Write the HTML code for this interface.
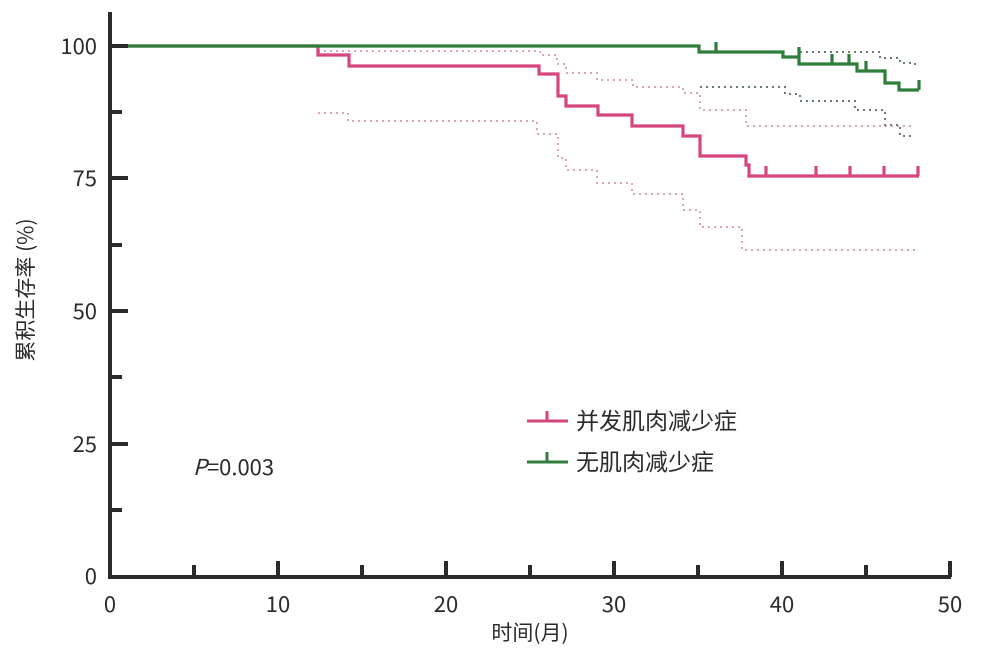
<!DOCTYPE html><html><head><meta charset="utf-8"><style>body{margin:0;background:#fff}svg{display:block}text{font-family:"Noto Sans CJK SC","Liberation Sans",sans-serif;fill:#2b2b2b}</style></head><body>
<svg width="981" height="652" viewBox="0 0 981 652">
<g fill="none" stroke-dasharray="2 4" stroke-width="2">
<polyline stroke="#d8a6b8" points="318,51 540,51 540,55 557,55 557,64 566,64 566,73 597,73 597,80 633,80 633,87 683,87 683,93 700,93 700,110 746,110 746,126 915,126"/>
<polyline stroke="#d8a6b8" points="318,113 348,113 348,121 537,121 537,134 558,134 558,158 566,158 566,170 597,170 597,183 632,183 632,194 683,194 683,210 700,210 700,227 742,227 742,250 915,250"/>
<polyline stroke="#6b7d6e" points="700,87 785,87 785,94 800,94 800,101 855,101 855,110 885,110 885,125 900,125 900,136 915,136"/>
<polyline stroke="#6b7d6e" points="800,52 880,52 880,58 900,58 900,63 915,63 915,67"/>
</g>
<g fill="none" stroke-width="3.2">
<polyline stroke="#d6467e" points="112,46 318,46 318,55 349,55 349,66 539,66 539,74 558,74 558,96 566,96 566,106 598,106 598,115 632,115 632,126 683,126 683,136 700,136 700,156 746,156 746,165 749,165 749,176 919,176"/>
<path stroke="#d6467e" d="M766,176V166M816,176V166M850,176V166M884,176V166M918,176V166"/>
<polyline stroke="#2e7d3a" points="112,46 699,46 699,52 783,52 783,57 799,57 799,64 857,64 857,71 885,71 885,83 899,83 899,90 919,90"/>
<path stroke="#2e7d3a" d="M716,52V42M799,57V47M832,64V54M849,64V54M866,71V61M919,90V80"/>
</g>
<g stroke="#2b2b2b" stroke-width="4" fill="none">
<path d="M110,12V579M108,577H951"/>
<path d="M110,46h18M110,178h18M110,311h18M110,444h18M110,112h12M110,245h12M110,377h12M110,510h12"/>
<path d="M278,577v-16M446,577v-16M614,577v-16M782,577v-16M950,577v-16M194,577v-12M362,577v-12M530,577v-12M698,577v-12M866,577v-12"/>
</g>
<g font-size="22" text-anchor="end">
<text x="97" y="54">100</text><text x="97" y="186">75</text><text x="97" y="319">50</text><text x="97" y="452">25</text><text x="97" y="584">0</text>
</g>
<g font-size="22" text-anchor="middle">
<text x="110" y="612">0</text><text x="278" y="612">10</text><text x="446" y="612">20</text><text x="614" y="612">30</text><text x="782" y="612">40</text><text x="950" y="612">50</text>
<text x="530" y="640" font-size="21">时间(月)</text>
</g>
<text transform="translate(33,290) rotate(-90)" font-size="21" text-anchor="middle">累积生存率 (%)</text>
<text x="193" y="475" font-size="22"><tspan font-style="italic">P</tspan>=0.003</text>
<path d="M527,421H568M547,421V411" stroke="#d6467e" stroke-width="3"/>
<path d="M527,462H568M547,462V452" stroke="#2e7d3a" stroke-width="3"/>
<text x="576" y="429" font-size="23">并发肌肉减少症</text>
<text x="576" y="470" font-size="23">无肌肉减少症</text>
</svg></body></html>
